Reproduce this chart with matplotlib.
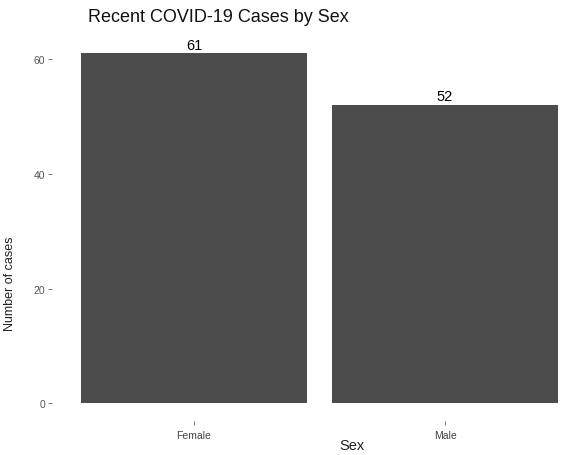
import matplotlib as mpl
import matplotlib.pyplot as plt

mpl.use("Agg")
plt.rcParams.update(
    {
        "font.family": ["Liberation Sans", "DejaVu Sans"],
        "axes.spines.top": False,
        "axes.spines.right": False,
        "axes.spines.bottom": False,
        "axes.spines.left": False,
    }
)

sexes = ["Female", "Male"]
cases = [61, 52]
yticks = [0, 20, 40, 60]

fig = plt.figure(figsize=(5.69, 4.56), dpi=100)
ax = fig.add_axes([52 / 569, 0.0746, 1 - 52 / 569, 0.845])

x = list(range(len(sexes)))
bars = ax.bar(x, cases, width=0.9, color="#4c4c4c", edgecolor="none")
ax.bar_label(bars, labels=[str(c) for c in cases], padding=1, fontsize=10.5, color="black")

ax.set_xlim(-0.566, 1.494)
ax.set_ylim(-0.05 * max(cases), 1.05 * max(cases))
ax.set_xticks(x)
ax.set_xticklabels(sexes)
ax.set_yticks(yticks)
ax.tick_params(axis="both", colors="#666666", labelsize=7.5, length=3, width=0.6)
ax.tick_params(axis="x", labelcolor="#444444")
ax.tick_params(axis="y", labelcolor="#555555", pad=2)

ax.set_xlabel("Sex", fontsize=10.5, color="#222222")
ax.xaxis.set_label_coords(0.58, -0.045)
ax.set_ylabel("Number of cases", fontsize=9, color="#222222")
ax.yaxis.set_label_coords(-0.07, 0.36)

fig.text(88 / 569, 1 - 18 / 456, "Recent COVID-19 Cases by Sex", fontsize=13,
         ha="left", va="center", color="#111111")

plt.savefig("out.png", dpi=100)
